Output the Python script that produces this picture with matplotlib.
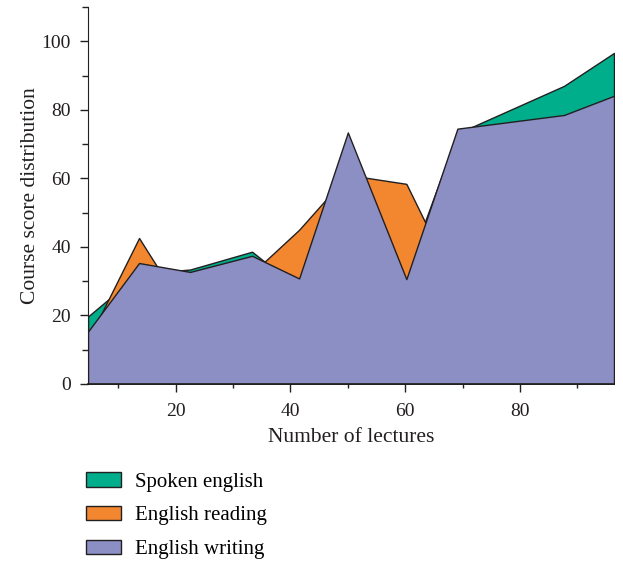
import matplotlib
matplotlib.use('Agg')
import matplotlib.pyplot as plt
from matplotlib.ticker import MultipleLocator

# values
lectures = [4.7, 13.6, 22.5, 33.3, 41.5, 50.0, 60.2, 69.1, 87.7, 96.4]
spoken = [19.7, 32.2, 33.4, 38.6, 27.7, 50.0, 32.6, 73.1, 87.0, 96.6]
reading = [12.7, 42.6, 19.0, 32.3, 45.0, 61.0, 58.4, 28.0, 65.0, 75.0]
writing = [15.3, 35.3, 32.7, 37.4, 30.8, 73.4, 30.6, 74.5, 78.5, 84.1]

series_names = ['Spoken english', 'English reading', 'English writing']
colors = ['#00ae8c', '#f3872f', '#8b8fc4']
edge = '#231f20'

plt.rcParams['font.family'] = ['Liberation Serif', 'DejaVu Serif']

fig = plt.figure(figsize=(6.23, 5.65), dpi=100)
ax = fig.add_axes([88 / 623, 1 - 384 / 565, (614 - 88) / 623, (384 - 7) / 565])

for ys, c, name in zip([spoken, reading, writing], colors, series_names):
    ax.fill_between(lectures, 0, ys, facecolor=c, edgecolor=edge, linewidth=1.0, label=name)

ax.set_xlim(lectures[0], lectures[-1])
ax.set_ylim(0, 110)
ax.xaxis.set_major_locator(MultipleLocator(20))
ax.xaxis.set_minor_locator(MultipleLocator(10))
ax.yaxis.set_major_locator(MultipleLocator(20))
ax.yaxis.set_minor_locator(MultipleLocator(10))
ax.set_yticks([0, 20, 40, 60, 80, 100])
ax.tick_params(axis='both', which='major', direction='out', length=5.5, width=1,
               labelsize=14, colors='#231f20')
ax.tick_params(axis='x', which='major', pad=8)
ax.tick_params(axis='y', which='major', pad=7)
ax.tick_params(axis='both', which='minor', direction='out', length=4.5, width=1, colors='#231f20')
ax.tick_params(axis='x', which='minor', length=3)

ax.spines['top'].set_visible(False)
ax.spines['right'].set_visible(False)
ax.spines['left'].set_color(edge)
ax.spines['bottom'].set_color(edge)
ax.spines['bottom'].set_linewidth(1.2)

ax.set_xlabel('Number of lectures', fontsize=15.5, color='#231f20', labelpad=6)
ax.set_ylabel('Course score distribution', fontsize=15.5, color='#231f20', labelpad=1)

fig.legend(loc='upper left', bbox_to_anchor=(86 / 623, 1 - 472 / 565), frameon=False,
           fontsize=15, handlelength=1.7, handleheight=0.7, handletextpad=0.65,
           labelspacing=0.68, borderpad=0, borderaxespad=0)

plt.savefig('out.png', dpi=100)
